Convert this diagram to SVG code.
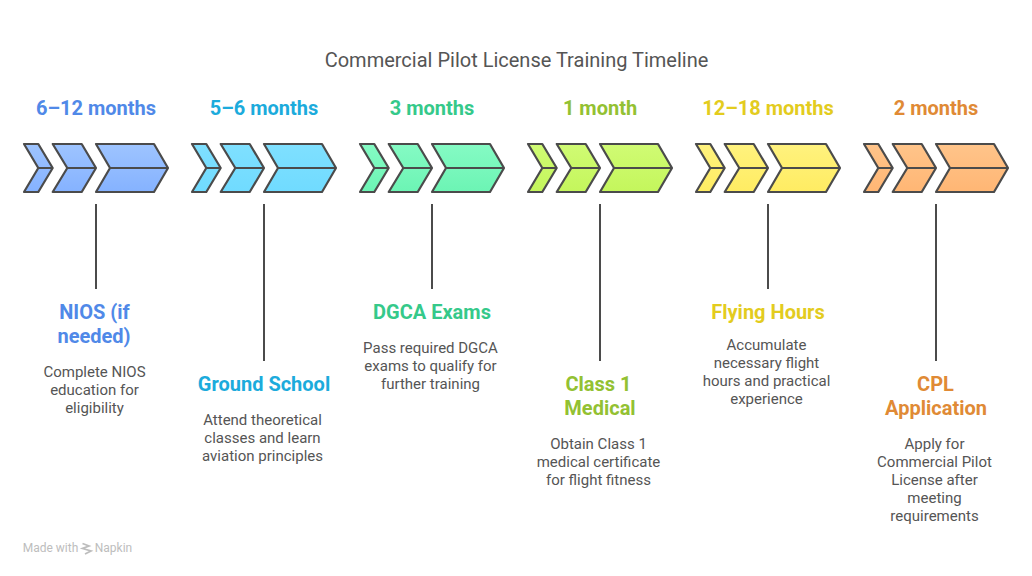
<svg xmlns="http://www.w3.org/2000/svg" xmlns:xlink="http://www.w3.org/1999/xlink" width="1032" height="576" viewBox="0 0 1032 576">
<style>
text{font-family:Roboto,"Liberation Sans",sans-serif;text-anchor:middle}
.title{font-size:20px;fill:#555}
.dur{font-size:20px;font-weight:700}
.head{font-size:20px;font-weight:700}
.body{font-size:15px;fill:#555}
.conn line{stroke:#4b4b4b;stroke-width:2}
.mark{font-size:12px;fill:#bdbdbd}
</style>
<defs>
<path id="c" fill="none" stroke="#4b4b4b" stroke-width="2.2" stroke-linejoin="round" d="M24 144H38.3L52.7 168L38.3 192H24L38.3 168ZM38.3 168H52.7M52.7 144H81.7L96 168L81.7 192H52.7L67.3 168ZM67.3 168H96M96 144H154L168 168L154 192H96L110 168ZM110 168H168"/>
<path id="f" d="M24 144H38.3L52.7 168L38.3 192H24L38.3 168ZM52.7 144H81.7L96 168L81.7 192H52.7L67.3 168ZM96 144H154L168 168L154 192H96L110 168Z" stroke="none"/>
<linearGradient id="g1" x1="0" y1="0" x2="0" y2="1"><stop offset="0" stop-color="#9ec4ff"/><stop offset="1" stop-color="#85b2ff"/></linearGradient>
<linearGradient id="g2" x1="0" y1="0" x2="0" y2="1"><stop offset="0" stop-color="#7fe0ff"/><stop offset="1" stop-color="#70dbff"/></linearGradient>
<linearGradient id="g3" x1="0" y1="0" x2="0" y2="1"><stop offset="0" stop-color="#85fbc4"/><stop offset="1" stop-color="#6cf4b4"/></linearGradient>
<linearGradient id="g4" x1="0" y1="0" x2="0" y2="1"><stop offset="0" stop-color="#d0fb74"/><stop offset="1" stop-color="#c4f65c"/></linearGradient>
<linearGradient id="g5" x1="0" y1="0" x2="0" y2="1"><stop offset="0" stop-color="#fff27e"/><stop offset="1" stop-color="#ffec62"/></linearGradient>
<linearGradient id="g6" x1="0" y1="0" x2="0" y2="1"><stop offset="0" stop-color="#ffc48a"/><stop offset="1" stop-color="#ffb674"/></linearGradient>
</defs>
<rect width="1032" height="576" fill="#fff"/>
<text class="title" x="516.5" y="67">Commercial Pilot License Training Timeline</text>
<g class="conn">
<line x1="96" y1="204" x2="96" y2="289"/>
<line x1="264" y1="204" x2="264" y2="361"/>
<line x1="432" y1="204" x2="432" y2="289"/>
<line x1="600" y1="204" x2="600" y2="361"/>
<line x1="768" y1="204" x2="768" y2="289"/>
<line x1="936" y1="204" x2="936" y2="361"/>
</g>
<g id="node-nios">
<text class="dur" x="96" y="115" fill="#5089e8">6–12 months</text>
<use xlink:href="#f" href="#f" fill="url(#g1)"/><use xlink:href="#c" href="#c"/>
<text class="head" x="94.5" y="319" fill="#5089e8">NIOS (if</text>
<text class="head" x="94" y="343" fill="#5089e8">needed)</text>
<text class="body" x="94.5" y="377">Complete NIOS</text>
<text class="body" x="94.5" y="395">education for</text>
<text class="body" x="94.5" y="413">eligibility</text>
</g>
<g id="node-ground" transform="translate(168 0)">
<text class="dur" x="96" y="115" fill="#1cabdc">5–6 months</text>
<use xlink:href="#f" href="#f" fill="url(#g2)"/><use xlink:href="#c" href="#c"/>
<text class="head" x="96" y="391" fill="#1cabdc">Ground School</text>
<text class="body" x="94.5" y="425">Attend theoretical</text>
<text class="body" x="94.5" y="443">classes and learn</text>
<text class="body" x="94.5" y="461">aviation principles</text>
</g>
<g id="node-dgca" transform="translate(336 0)">
<text class="dur" x="96" y="115" fill="#35c98a">3 months</text>
<use xlink:href="#f" href="#f" fill="url(#g3)"/><use xlink:href="#c" href="#c"/>
<text class="head" x="96" y="319" fill="#35c98a">DGCA Exams</text>
<text class="body" x="94.5" y="353">Pass required DGCA</text>
<text class="body" x="94.5" y="371">exams to qualify for</text>
<text class="body" x="94.5" y="389">further training</text>
</g>
<g id="node-medical" transform="translate(504 0)">
<text class="dur" x="96" y="115" fill="#93c132">1 month</text>
<use xlink:href="#f" href="#f" fill="url(#g4)"/><use xlink:href="#c" href="#c"/>
<text class="head" x="94.5" y="391" fill="#93c132">Class 1</text>
<text class="head" x="96" y="415" fill="#93c132">Medical</text>
<text class="body" x="94.5" y="449">Obtain Class 1</text>
<text class="body" x="94.5" y="467">medical certificate</text>
<text class="body" x="94.5" y="485">for flight fitness</text>
</g>
<g id="node-flying" transform="translate(672 0)">
<text class="dur" x="96" y="115" fill="#e3cc1e">12–18 months</text>
<use xlink:href="#f" href="#f" fill="url(#g5)"/><use xlink:href="#c" href="#c"/>
<text class="head" x="96" y="319" fill="#e3cc1e">Flying Hours</text>
<text class="body" x="94.5" y="350">Accumulate</text>
<text class="body" x="94.5" y="368">necessary flight</text>
<text class="body" x="94.5" y="386">hours and practical</text>
<text class="body" x="94.5" y="404">experience</text>
</g>
<g id="node-cpl" transform="translate(840 0)">
<text class="dur" x="96" y="115" fill="#e08a35">2 months</text>
<use xlink:href="#f" href="#f" fill="url(#g6)"/><use xlink:href="#c" href="#c"/>
<text class="head" x="95.5" y="391" fill="#e08a35">CPL</text>
<text class="head" x="96" y="415" fill="#e08a35">Application</text>
<text class="body" x="94.5" y="449">Apply for</text>
<text class="body" x="94.5" y="467">Commercial Pilot</text>
<text class="body" x="94.5" y="485">License after</text>
<text class="body" x="94.5" y="503">meeting</text>
<text class="body" x="94.5" y="521">requirements</text>
</g>
<text class="mark" x="50.5" y="552">Made with</text>
<path d="M82.5 543.5L89 546L82.5 548.5L91 551L85 554" fill="none" stroke="#bdbdbd" stroke-width="1.8"/>
<text class="mark" x="113.5" y="552">Napkin</text>
</svg>
